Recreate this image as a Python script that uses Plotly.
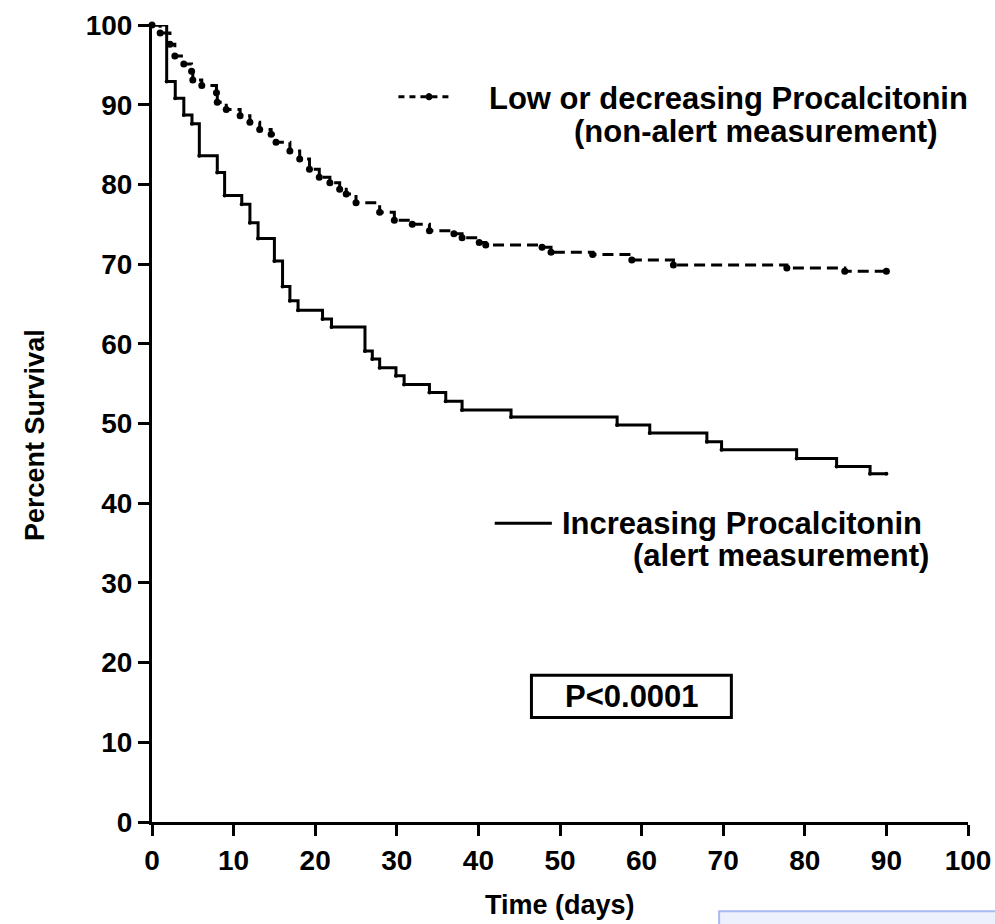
import plotly.graph_objects as go

# ---- data ----
alert_days = [0, 1.8, 2.85, 3.9, 4.9, 5.8, 8.0, 8.9, 11, 12, 13, 15, 16, 16.9, 17.9, 20.9, 22,
              26.1, 27, 27.9, 29.9, 30.9, 34, 36, 38, 44, 57, 61, 68, 69.8, 79, 83.9, 88, 90]
alert_surv = [100, 92.9, 90.8, 88.7, 87.6, 83.6, 81.5, 78.6, 77.5, 75.2, 73.2, 70.4, 67.2, 65.4,
              64.2, 63.1, 62.1, 59.1, 58.1, 57.0, 56.0, 54.9, 53.9, 52.8, 51.7, 50.8, 49.8, 48.8,
              47.7, 46.7, 45.6, 44.6, 43.7, 43.7]

nonalert_days = [0, 1.0, 2.2, 2.8, 3.9, 4.85, 5.0, 6.1, 7.9, 8.0, 9.1, 10.8, 12, 13.2, 14.6, 15.2,
                 16.9, 18.1, 19.3, 20.5, 21.8, 23, 23.8, 25, 27.9, 29.7, 31.9, 34, 37, 38, 40.1,
                 40.9, 47.8, 48.9, 54, 58.8, 63.9, 77.8, 84.9, 90]
nonalert_surv = [100, 99.0, 97.6, 96.1, 95.1, 94.2, 93.1, 92.4, 91.5, 90.3, 89.4, 88.6, 87.8, 86.9,
                 86.3, 85.3, 84.2, 83.2, 81.9, 80.9, 80.2, 79.4, 78.8, 77.7, 76.5, 75.5, 75.0, 74.2,
                 73.8, 73.3, 72.7, 72.4, 72.1, 71.5, 71.2, 70.5, 69.9, 69.5, 69.1, 69.1]

x_ticks = [0, 10, 20, 30, 40, 50, 60, 70, 80, 90, 100]
y_ticks = [0, 10, 20, 30, 40, 50, 60, 70, 80, 90, 100]

x_title = "Time (days)"
y_title = "Percent Survival"
label_nonalert_1 = "Low or decreasing Procalcitonin"
label_nonalert_2 = "(non-alert measurement)"
label_alert_1 = "Increasing Procalcitonin"
label_alert_2 = "(alert measurement)"
p_text = "P<0.0001"

FONT = "Liberation Sans, Arial, Helvetica, sans-serif"

fig = go.Figure()
fig.add_trace(go.Scatter(
    x=nonalert_days, y=nonalert_surv, mode="lines+markers",
    line=dict(shape="hv", color="black", width=3, dash="11px,6px"),
    marker=dict(symbol="circle", size=7, color="black"),
    cliponaxis=False, showlegend=False, hoverinfo="skip"))
fig.add_trace(go.Scatter(
    x=alert_days, y=alert_surv, mode="lines+markers",
    line=dict(shape="hv", color="black", width=3),
    marker=dict(symbol="circle", size=4, color="black"),
    cliponaxis=False, showlegend=False, hoverinfo="skip"))

ann_font = dict(family=FONT, size=31, color="black", weight=700)
title_font = dict(family=FONT, size=27, color="black", weight=700)

annotations = [
    dict(x=41.0, y=90.8, text=label_nonalert_1, xanchor="left", yanchor="middle", showarrow=False, font=ann_font),
    dict(x=96.5, y=86.6, text=label_nonalert_2, xanchor="right", yanchor="middle", showarrow=False, font=ann_font),
    dict(x=50.0, y=37.5, text=label_alert_1, xanchor="left", yanchor="middle", showarrow=False, font=ann_font),
    dict(x=95.5, y=33.4, text=label_alert_2, xanchor="right", yanchor="middle", showarrow=False, font=ann_font),
    dict(x=58.8, y=15.7, text=p_text, xanchor="center", yanchor="middle", showarrow=False, font=ann_font),
    dict(x=0.5, y=-0.104, xref="paper", yref="paper", text=x_title, xanchor="center", yanchor="middle",
         showarrow=False, font=title_font),
    dict(x=-0.1434, y=0.4856, xref="paper", yref="paper", text=y_title, textangle=-90,
         xanchor="center", yanchor="middle", showarrow=False, font=title_font),
]

shapes = [
    # legend samples
    dict(type="line", xref="x", yref="y", x0=30.2, x1=36.8, y0=91.0, y1=91.0,
         line=dict(color="black", width=3, dash="6px,5px")),
    dict(type="circle", xref="x", yref="y", x0=33.6, x1=34.3, y0=90.6, y1=91.4,
         fillcolor="black", line=dict(color="black", width=1)),
    dict(type="line", xref="x", yref="y", x0=42.0, x1=49.0, y0=37.5, y1=37.5,
         line=dict(color="black", width=3)),
    # p-value box
    dict(type="rect", xref="x", yref="y", x0=46.5, x1=71.0, y0=13.1, y1=18.4,
         line=dict(color="black", width=3), fillcolor="rgba(0,0,0,0)"),
    # light blue strip at bottom right of the picture
    dict(type="rect", xref="paper", yref="paper", x0=0.695, x1=1.2, y0=-0.1121, y1=-0.2,
         line=dict(color="#a9b9f2", width=2), fillcolor="#edf1fd", layer="above"),
]

axis_common = dict(
    showgrid=False, zeroline=False, showline=True, linecolor="black", linewidth=3,
    ticks="outside", ticklen=11, tickwidth=3, tickcolor="black", automargin=False,
    tickfont=dict(family=FONT, size=28, color="black", weight=700),
)

fig.update_xaxes(range=[0, 100], tickvals=x_ticks, ticktext=[str(v) for v in x_ticks], **axis_common)
fig.update_yaxes(range=[0, 100], tickvals=y_ticks, ticktext=[str(v) for v in y_ticks], **axis_common)

fig.update_layout(
    width=995, height=924,
    margin=dict(l=152, r=27, t=25, b=102),
    plot_bgcolor="white", paper_bgcolor="white",
    annotations=annotations, shapes=shapes,
    hovermode=False,
)

# remove the default page margin so the figure fills the window exactly
page_js = ("document.body.style.margin='0';"
           "document.body.style.overflow='hidden';"
           "document.documentElement.style.overflow='hidden';")

fig.write_html("out.html", post_script=page_js, config={"displayModeBar": False, "staticPlot": True})
